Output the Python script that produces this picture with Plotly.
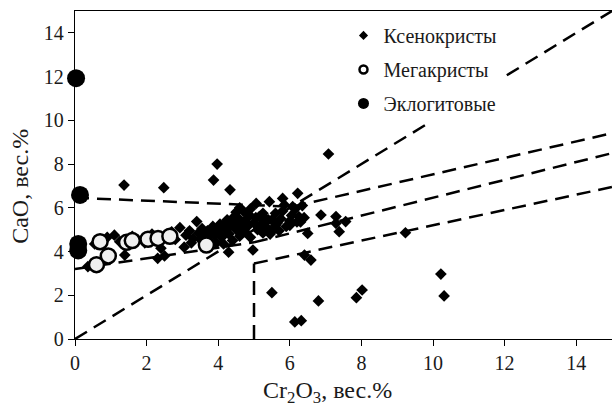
import plotly.graph_objects as go

# ---- data ----
xeno_x = [0.36, 0.55, 0.9, 1.1, 1.25, 1.39, 1.6, 1.75, 1.95, 2.15, 2.31, 2.4, 2.5, 2.7, 2.8, 2.93, 3.05, 1.37, 2.48,
          3.1, 3.2, 3.3, 3.4, 3.45, 3.55, 3.6, 3.7, 3.75, 3.85, 3.9, 3.95, 4.0, 4.05, 4.1, 4.15, 4.2, 4.25, 4.29, 4.3,
          4.35, 4.4, 4.45, 4.5, 4.5, 4.55, 4.6, 4.6, 4.65, 4.7, 4.75, 4.8, 4.85, 4.9, 4.9, 4.97, 5.0, 5.06, 5.1, 5.15,
          5.2, 5.25, 5.3, 5.35, 5.43, 5.45, 5.5, 5.55, 5.6, 5.65, 5.7, 5.75, 5.8, 5.85, 5.9, 6.0, 6.05, 6.08, 6.15,
          6.2, 6.22, 6.25, 6.35, 6.4, 6.41, 6.5, 6.59,
          6.87, 7.29, 7.29, 7.38, 7.56, 7.08, 9.23, 3.97, 3.87, 4.33,
          5.5, 6.14, 6.32, 6.8, 7.86, 8.02, 10.22, 10.31,
          3.25, 3.5, 3.8, 4.05, 4.2, 4.4, 4.55, 4.7, 4.85, 5.05, 5.25, 5.4, 5.6, 5.8, 6.0, 6.3]
xeno_y = [3.31, 4.35, 4.65, 4.75, 4.45, 3.84, 4.7, 4.55, 4.4, 4.8, 3.69, 4.15, 3.8, 4.9, 4.55, 5.09, 4.2, 7.04, 6.92,
          4.75, 4.95, 4.6, 5.37, 4.85, 5.05, 4.7, 4.95, 4.5, 5.15, 4.75, 4.4, 5.0, 5.25, 4.65, 4.35, 5.05, 5.45, 3.97, 4.8,
          5.2, 4.5, 5.6, 5.0, 5.8, 5.35, 4.7, 6.0, 5.15, 5.85, 4.9, 5.5, 5.2, 4.65, 5.95, 4.07, 5.3, 6.2, 5.0, 5.6,
          5.25, 4.85, 5.55, 5.1, 6.28, 4.8, 5.45, 5.0, 5.75, 5.3, 4.95, 5.5, 6.43, 6.13, 5.15, 5.4, 5.65, 6.05, 5.95,
          5.35, 6.66, 5.6, 6.1, 5.55, 3.84, 4.83, 3.61,
          5.67, 5.6, 5.29, 4.91, 5.37, 8.46, 4.86, 8.0, 7.27, 6.82,
          2.12, 0.78, 0.84, 1.74, 1.89, 2.24, 2.97, 1.97,
          4.4, 4.55, 4.85, 4.8, 5.3, 5.25, 5.55, 5.35, 5.7, 5.55, 5.75, 5.45, 5.2, 5.85, 5.2, 5.35]

mega_x = [0.6, 0.93, 0.70, 1.44, 1.6, 2.04, 2.32, 2.65, 3.67]
mega_y = [3.4, 3.8, 4.45, 4.42, 4.5, 4.56, 4.6, 4.7, 4.3]

eclo_x = [0.03, 0.14, 0.09, 0.09]
eclo_y = [11.93, 6.59, 4.35, 4.05]

# boundary lines
diag_x, diag_y = [0, 15], [0, 15]
top_x, top_y = [0, 6.07], [6.46, 6.05]
fan_top_x, fan_top_y = [6.07, 15], [6.05, 9.41]
low_left_x, low_left_y = [0, 5], [3.2, 4.42]
mid_x, mid_y = [5, 15], [4.42, 8.5]
low_x, low_y = [5, 15], [3.45, 6.95]
vert_x, vert_y = [5, 5], [0, 3.45]

names = ["Ксенокристы", "Мегакристы", "Эклогитовые"]
x_ticks = [0, 2, 4, 6, 8, 10, 12, 14]
y_ticks = [0, 2, 4, 6, 8, 10, 12, 14]

FONT = "Liberation Serif"
fig = go.Figure()

dash = "14px,8px"
for lx, ly in [(diag_x, diag_y), (top_x, top_y), (fan_top_x, fan_top_y), (low_left_x, low_left_y),
               (mid_x, mid_y), (low_x, low_y), (vert_x, vert_y)]:
    fig.add_trace(go.Scatter(x=lx, y=ly, mode="lines", showlegend=False, hoverinfo="skip",
                             line=dict(color="black", width=2.5, dash=dash)))

fig.add_trace(go.Scatter(x=xeno_x, y=xeno_y, mode="markers", showlegend=False, cliponaxis=False,
                         marker=dict(symbol="diamond", size=9, color="black")))
fig.add_trace(go.Scatter(x=mega_x, y=mega_y, mode="markers", showlegend=False, cliponaxis=False,
                         marker=dict(symbol="circle", size=15, color="#efefef",
                                     line=dict(color="black", width=2.5))))
fig.add_trace(go.Scatter(x=eclo_x, y=eclo_y, mode="markers", showlegend=False, cliponaxis=False,
                         marker=dict(symbol="circle", size=18, color="black")))

# legend entries
fig.add_trace(go.Scatter(x=[None], y=[None], mode="markers", name=names[0], legendgroup="a",
                         marker=dict(symbol="diamond", size=7, color="black")))
fig.add_trace(go.Scatter(x=[None], y=[None], mode="markers", name=names[1], legendgroup="b",
                         marker=dict(symbol="circle", size=8, color="white", line=dict(color="black", width=2.5))))
fig.add_trace(go.Scatter(x=[None], y=[None], mode="markers", name=names[2], legendgroup="c",
                         marker=dict(symbol="circle", size=11, color="black")))

axis_common = dict(range=[0, 15], showgrid=False, zeroline=False, showline=True, linecolor="black",
                   linewidth=1.3, mirror=True, ticks="outside", ticklen=6, tickwidth=1.3, tickcolor="black",
                   tickmode="array", tickfont=dict(family=FONT, size=20, color="#1a1a1a"))

fig.update_layout(
    template="none",
    width=612, height=409,
    margin=dict(l=75, r=0, t=11, b=70),
    plot_bgcolor="white", paper_bgcolor="white",
    font=dict(family=FONT, color="#1a1a1a", size=20),
    xaxis=dict(tickvals=x_ticks, ticktext=[str(v) for v in x_ticks], **axis_common),
    yaxis=dict(tickvals=y_ticks, ticktext=[str(v) for v in y_ticks], **axis_common),
    legend=dict(x=0.50, y=0.985, xanchor="left", yanchor="top", bgcolor="white",
                font=dict(family=FONT, size=20, color="#1a1a1a"), tracegroupgap=5),
    annotations=[
        dict(text="Cr<sub>2</sub>O<sub>3</sub>, вес.%", xref="paper", yref="paper", x=0.471, y=-0.162,
             xanchor="center", yanchor="middle", showarrow=False, font=dict(family=FONT, size=24, color="#1a1a1a")),
        dict(text="CaO, вес.%", xref="paper", yref="paper", x=-0.103, y=0.466, textangle=-90,
             xanchor="center", yanchor="middle", showarrow=False, font=dict(family=FONT, size=24, color="#1a1a1a")),
    ],
)

fig.write_html("out.html")
